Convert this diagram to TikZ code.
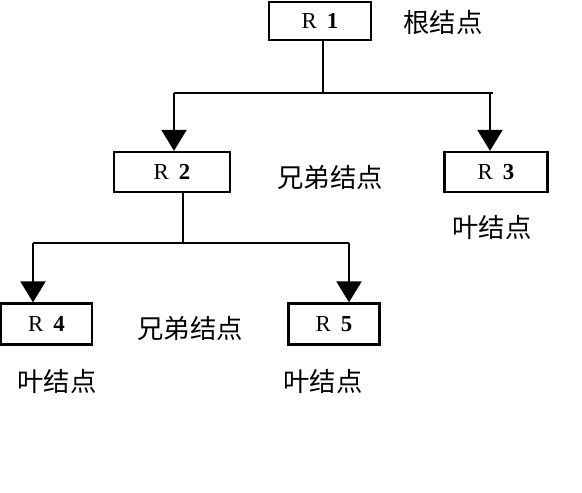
\documentclass[tikz,border=0pt]{standalone}
\usepackage{fontspec}
\setmainfont{Liberation Serif}
\newfontfamily\cjk{Noto Sans CJK SC}
\usetikzlibrary{arrows.meta,calc}
\tikzset{
	rbox/.style={draw, line width=1.3pt, inner sep=0pt, font=\fontsize{13}{14}\selectfont},
	tag/.style={font=\cjk\fontsize{15}{16}\selectfont, inner sep=0pt},
	arr/.style={-{Triangle[length=0.42cm,width=0.5cm]}},
}
\newcommand{\rlab}[1]{R\hspace{0.2cm}\textbf{#1}}

\begin{document}
\begin{tikzpicture}[line width=1.2pt]
		%%%%% START %%%%%
		\useasboundingbox (0, 0) rectangle (11.64, 9.84);
		
		\node[rbox, minimum width=2.04cm, minimum height=0.76cm] (r1) at (6.40, 9.42) {\rlab{1}};
		\node[rbox, minimum width=2.32cm, minimum height=0.80cm] (r2) at (3.44, 6.40) {\rlab{2}};
		\node[rbox, minimum width=2.06cm, minimum height=0.80cm] (r3) at (9.92, 6.40) {\rlab{3}};
		\node[rbox, minimum width=1.82cm, minimum height=0.82cm] (r4) at (0.93, 3.36) {\rlab{4}};
		\node[rbox, minimum width=1.82cm, minimum height=0.82cm] (r5) at (6.68, 3.36) {\rlab{5}};
		
		\node[tag] (root) at (8.86, 9.40) {根结点};
		\node[tag] (sib1) at (6.60, 6.30) {兄弟结点};
		\node[tag] (leaf3) at (9.84, 5.30) {叶结点};
		\node[tag] (sib2) at (3.80, 3.28) {兄弟结点};
		\node[tag] (leaf4) at (1.14, 2.22) {叶结点};
		\node[tag] (leaf5) at (6.46, 2.22) {叶结点};
		
		\coordinate (j1) at (6.46, 7.98);
		\coordinate (j1l) at (3.48, 7.98);
		\coordinate (j1r) at (9.80, 7.98);
		\coordinate (j1e) at (9.86, 7.98);
		\draw (r1.south -| j1) -- (j1);
		\draw (j1l) -- (j1e);
		\draw[arr] (j1l) -- (j1l |- r2.north);
		\draw[arr] (j1r) -- (j1r |- r3.north);
		
		\coordinate (j2) at (3.66, 4.98);
		\coordinate (j2l) at (0.66, 4.98);
		\coordinate (j2r) at (6.98, 4.98);
		\draw (r2.south -| j2) -- (j2);
		\draw (j2l) -- (j2r);
		\draw[arr] (j2l) -- (j2l |- r4.north);
		\draw[arr] (j2r) -- (j2r |- r5.north);
		
		%%%%% END %%%%%
\end{tikzpicture}
\end{document}
